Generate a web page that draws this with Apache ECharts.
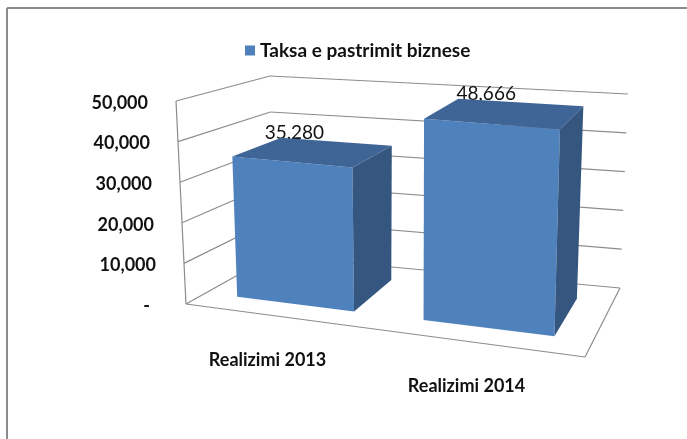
<!DOCTYPE html>
<html>
<head>
<meta charset="utf-8">
<script src="https://cdn.jsdelivr.net/npm/echarts@6/dist/echarts.min.js"></script>
<style>
html, body { margin: 0; padding: 0; background: #fff; }
#main { width: 687px; height: 439px; }
</style>
</head>
<body>
<div id="main"></div>
<script>
var seriesName = 'Taksa e pastrimit biznese';
var categories = ['Realizimi 2013', 'Realizimi 2014'];
var values = [35280, 48666];
var valueLabels = ['35,280', '48,666'];
var yTicks = [0, 10000, 20000, 30000, 40000, 50000];
var yTickLabels = ['-', '10,000', '20,000', '30,000', '40,000', '50,000'];

// screen corners of the 3d box (front/back, bottom/top, left/right)
var C = {
    fbl: [186, 304], fbr: [585, 357], bbl: [272, 256], bbr: [620, 288],
    ftl: [176, 101], ftr: [592, 137], btl: [270, 76], btr: [628, 94]
};
var K = 1.12;          // perspective squeeze along x
var BAR_FRAC = 0.64;   // bar width as part of the band
var DEPTH = [0.23, 0.79];
var GRIDLINE = '#8c8c8c';

function lerp(a, b, t) {
    return [a[0] + (b[0] - a[0]) * t, a[1] + (b[1] - a[1]) * t];
}
function persp(u) {
    return u / (u + K * (1 - u));
}
//u: along categories, v: along values, w: depth
function proj(u, v, w) {
    u = persp(u);
    var fb = lerp(C.fbl, C.fbr, u), bb = lerp(C.bbl, C.bbr, u);
    var ft = lerp(C.ftl, C.ftr, u), bt = lerp(C.btl, C.btr, u);
    return lerp(lerp(fb, bb, w), lerp(ft, bt, w), v);
}
function toUV(cs, pt) {
    return [(pt[0] - cs.x) / cs.width, (cs.y + cs.height - pt[1]) / cs.height];
}
function text(x, y, str, align, font) {
    return {
        type: 'text', x: x, y: y,
        style: { text: str, font: font, fill: '#111', align: align, verticalAlign: 'middle' }
    };
}

function renderWalls(params, api) {
    var cs = params.coordSys;
    var children = [];
    var line = function (a, b) {
        children.push({
            type: 'line',
            shape: { x1: a[0], y1: a[1], x2: b[0], y2: b[1] },
            style: { stroke: GRIDLINE, lineWidth: 1.2 }
        });
    };
    yTicks.forEach(function (t, i) {
        var v = toUV(cs, api.coord([0, t]))[1];
        line(proj(0, v, 0), proj(0, v, 1));   // left wall
        line(proj(0, v, 1), proj(1, v, 1));   // back wall
        var p = proj(0, v, 0);
        var dx = yTickLabels[i] == '-' ? 36 : 28;
        children.push(text(p[0] - dx, p[1] + 2, yTickLabels[i], 'right', 'bold 18px Lato'));
    });
    line(proj(0, 0, 0), proj(0, 1, 0));
    line(proj(0, 0, 0), proj(1, 0, 0));
    line(proj(1, 0, 0), proj(1, 0, 1));
    categories.forEach(function (name, i) {
        var u = toUV(cs, api.coord([i, 0]))[0];
        var p = proj(u, 0, 0);
        children.push(text(p[0] - 10, p[1] + 44, name, 'center', 'bold 18px Lato'));
    });
    return { type: 'group', children: children };
}

function renderBar(params, api) {
    var cs = params.coordSys;
    var idx = api.value(0);
    var uc = toUV(cs, api.coord([idx, 0]))[0];
    var v1 = toUV(cs, api.coord([idx, api.value(1)]))[1];
    var half = api.size([1, 0])[0] / cs.width * BAR_FRAC / 2;
    var u0 = uc - half, u1 = uc + half, w0 = DEPTH[0], w1 = DEPTH[1];
    var poly = function (pts, color) {
        return { type: 'polygon', shape: { points: pts }, style: { fill: color } };
    };
    var c = proj(uc, v1, (w0 + w1) / 2);
    return {
        type: 'group',
        children: [
            text(c[0] - 19, c[1] - 19, valueLabels[idx], 'center', '19px Lato'),
            poly([proj(u0, 0, w0), proj(u1, 0, w0), proj(u1, v1, w0), proj(u0, v1, w0)], '#4f81bd'),
            poly([proj(u1, 0, w0), proj(u1, 0, w1), proj(u1, v1, w1), proj(u1, v1, w0)], '#35577f'),
            poly([proj(u0, v1, w0), proj(u1, v1, w0), proj(u1, v1, w1), proj(u0, v1, w1)], '#3f6597')
        ]
    };
}

var chart = echarts.init(document.getElementById('main'));
chart.setOption({
    animation: false,
    backgroundColor: '#fff',
    legend: {
        data: [seriesName],
        left: 240,
        top: 36,
        icon: 'rect',
        itemWidth: 10,
        itemHeight: 10,
        textStyle: { fontFamily: 'Lato', fontWeight: 'bold', fontSize: 19, color: '#111' }
    },
    // hidden grid, only used for its scales
    grid: { left: 100, top: 100, width: 400, height: 200 },
    xAxis: { type: 'category', data: categories, show: false },
    yAxis: { type: 'value', min: 0, max: 50000, interval: 10000, show: false },
    graphic: [
        { type: 'line', shape: { x1: 7, y1: 8, x2: 687, y2: 8 }, style: { stroke: '#8c8c8c', lineWidth: 2 } },
        { type: 'line', shape: { x1: 7, y1: 8, x2: 7, y2: 439 }, style: { stroke: '#8c8c8c', lineWidth: 2 } }
    ],
    series: [
        {
            name: 'walls',
            type: 'custom',
            silent: true,
            z: 1,
            renderItem: renderWalls,
            data: [[0, 0]]
        },
        {
            name: seriesName,
            type: 'custom',
            z: 2,
            itemStyle: { color: '#4f81bd' },
            renderItem: renderBar,
            data: values.map(function (v, i) { return [i, v]; })
        }
    ]
});
</script>
</body>
</html>
